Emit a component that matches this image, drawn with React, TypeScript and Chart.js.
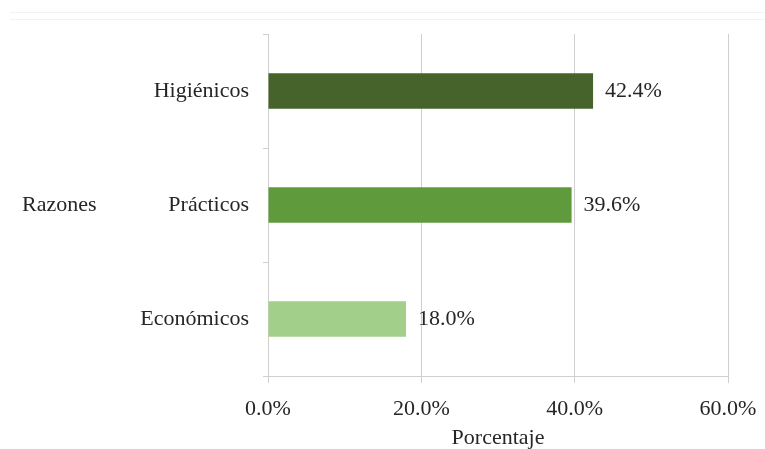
import React, { useEffect, useRef } from "react";
import { Chart, registerables } from "chart.js";

Chart.register(...registerables);

const categories = ["Higiénicos", "Prácticos", "Económicos"];
const values = [42.4, 39.6, 18.0];
const barColors = ["#46632b", "#5f9b3d", "#a2cf89"];
const xTicks = [0, 20, 40, 60];
const yAxisTitle = "Razones";
const xAxisTitle = "Porcentaje";

const FONT = "'Liberation Serif', 'Times New Roman', serif";
const TEXT = "#262626";
const GRID = "#cfcfcf";

export default function App() {
  const ref = useRef<HTMLCanvasElement | null>(null);

  useEffect(() => {
    if (!ref.current) return;
    const labelPlugin = {
      id: "labels",
      afterDatasetsDraw(chart: any) {
        const ctx = chart.ctx;
        const meta = chart.getDatasetMeta(0);
        ctx.save();
        ctx.font = `22px ${FONT}`;
        ctx.fillStyle = TEXT;
        ctx.textBaseline = "middle";
        ctx.textAlign = "left";
        meta.data.forEach((bar: any, i: number) => {
          ctx.fillText(values[i].toFixed(1) + "%", bar.x + 12, bar.y);
        });
        const ys = chart.scales.y;
        ctx.fillText(yAxisTitle, 22, ys.getPixelForValue(1));
        ctx.restore();
      },
    };

    const chart = new Chart(ref.current, {
      type: "bar",
      data: {
        labels: categories,
        datasets: [
          {
            data: values,
            backgroundColor: barColors,
            borderWidth: 0,
            barPercentage: 0.31,
            categoryPercentage: 1,
          },
        ],
      },
      plugins: [labelPlugin],
      options: {
        indexAxis: "y",
        animation: false,
        responsive: false,
        maintainAspectRatio: false,
        layout: { padding: { left: 0, top: 34, right: 37, bottom: 0 } },
        plugins: { legend: { display: false }, tooltip: { enabled: false } },
        scales: {
          x: {
            min: 0,
            max: 60,
            afterBuildTicks(scale: any) {
              scale.ticks = xTicks.map((v) => ({ value: v }));
            },
            afterFit(scale: any) {
              scale.height = 73;
              scale.paddingRight = 0;
              scale.paddingLeft = 0;
            },
            grid: { color: GRID, lineWidth: 1, tickLength: 7 },
            border: { color: GRID, width: 1 },
            ticks: {
              color: TEXT,
              font: { family: FONT, size: 22 },
              padding: 13,
              callback: (v: any) => Number(v).toFixed(1) + "%",
            },
            title: {
              display: true,
              text: xAxisTitle,
              color: TEXT,
              font: { family: FONT, size: 22 },
              padding: { top: 0, bottom: -2 },
            },
          },
          y: {
            afterFit(scale: any) {
              scale.width = 268;
            },
            grid: { color: GRID, drawOnChartArea: false, tickLength: 5, offset: true },
            border: { color: GRID, width: 1 },
            ticks: {
              color: TEXT,
              font: { family: FONT, size: 22 },
              padding: 14,
            },
          },
        },
      },
    });
    return () => chart.destroy();
  }, []);

  return (
    <div style={{ position: "absolute", left: 0, top: 0, width: 765, height: 449, background: "#fff" }}>
      <div
        style={{
          position: "absolute",
          left: 10,
          top: 12,
          width: 755,
          height: 6,
          borderTop: "1px solid #f2f2f2",
          borderBottom: "1px solid #f2f2f2",
        }}
      />
      <canvas ref={ref} width={765} height={449} style={{ position: "absolute", left: 0, top: 0 }} />
    </div>
  );
}
